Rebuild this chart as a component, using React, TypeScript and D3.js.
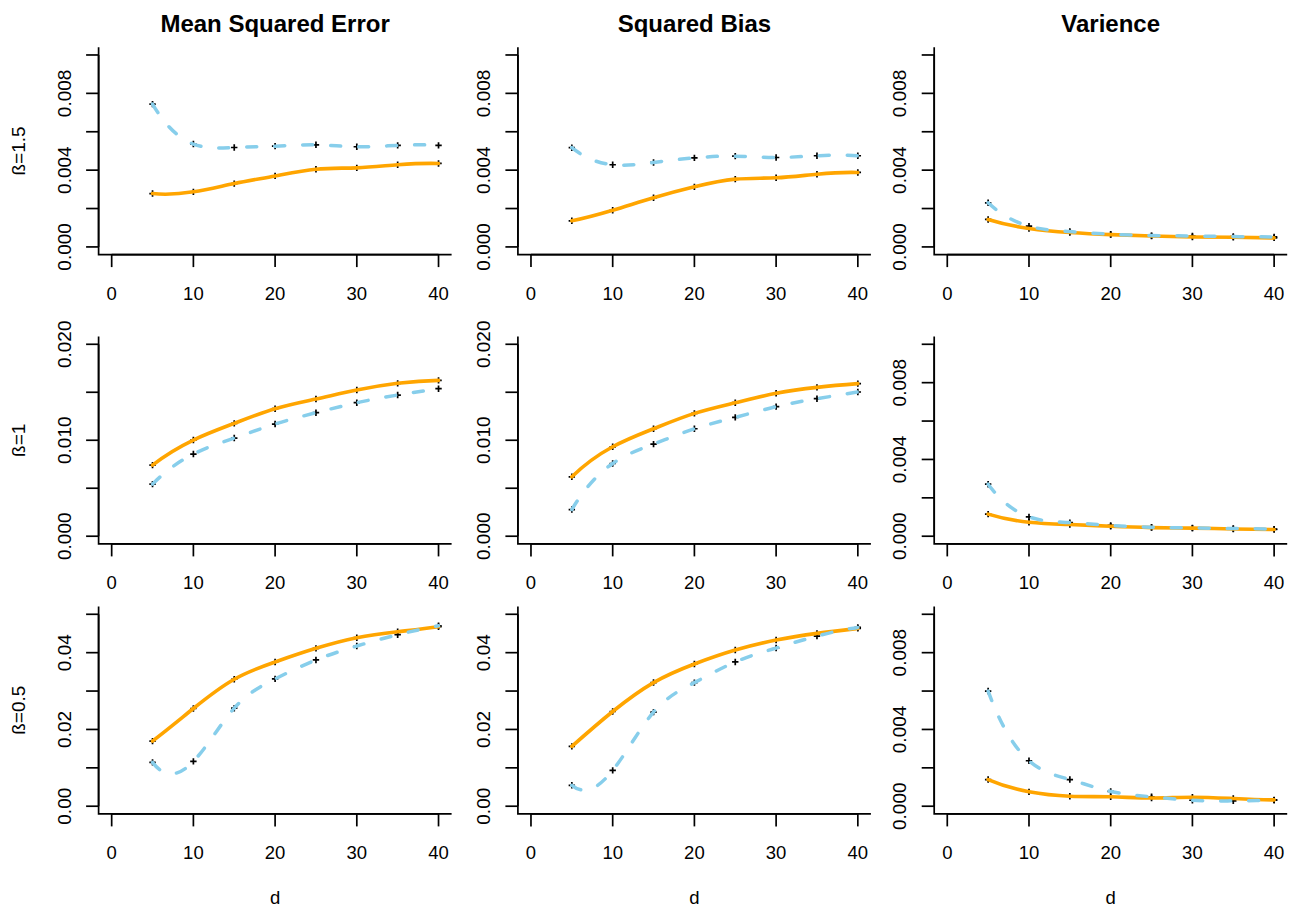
import React from "react";
import * as d3 from "d3";

// ---------- data ----------
const dValues = [5, 10, 15, 20, 25, 30, 35, 40];
const xTicks = [0, 10, 20, 30, 40];

const columnTitles = ["Mean Squared Error", "Squared Bias", "Varience"];
const rowLabels = ["ß=1.5", "ß=1", "ß=0.5"];

// Mean squared error
const mseOrange15 = [0.00278, 0.00287, 0.0033, 0.0037, 0.00405, 0.00412, 0.00428, 0.00435];
const mseBlue15 = [0.00744, 0.00536, 0.00518, 0.00525, 0.00532, 0.00522, 0.00529, 0.00529];
const mseOrange10 = [0.00741, 0.01002, 0.01176, 0.01329, 0.0143, 0.01523, 0.01593, 0.01624];
const mseBlue10 = [0.00543, 0.00856, 0.01023, 0.01169, 0.01287, 0.01391, 0.01471, 0.01537];
const mseOrange05 = [0.01697, 0.02545, 0.03307, 0.03758, 0.04113, 0.0439, 0.04545, 0.04675];
const mseBlue05 = [0.01143, 0.01169, 0.02554, 0.03316, 0.0381, 0.04173, 0.04468, 0.04701];

// Squared bias
const biasOrange15 = [0.00136, 0.00191, 0.00256, 0.00313, 0.00353, 0.0036, 0.00379, 0.00388];
const biasBlue15 = [0.00517, 0.00428, 0.0044, 0.00464, 0.00473, 0.00466, 0.00475, 0.00475];
const biasOrange10 = [0.00619, 0.00932, 0.0112, 0.0128, 0.01391, 0.01489, 0.01551, 0.0159];
const biasBlue10 = [0.00278, 0.00758, 0.0096, 0.0112, 0.01238, 0.0135, 0.01433, 0.01503];
const biasOrange05 = [0.01558, 0.02468, 0.03221, 0.03706, 0.04069, 0.04329, 0.04502, 0.04632];
const biasBlue05 = [0.00545, 0.00935, 0.0245, 0.0322, 0.03758, 0.0412, 0.04433, 0.04658];

// Variance
const varOrange15 = [0.00143, 0.00096, 0.00075, 0.00064, 0.00057, 0.00052, 0.0005, 0.00047];
const varBlue15 = [0.0023, 0.00108, 0.0008, 0.00066, 0.00059, 0.00057, 0.00054, 0.00052];
const varOrange10 = [0.00115, 0.00073, 0.00061, 0.00052, 0.00045, 0.00042, 0.00038, 0.00035];
const varBlue10 = [0.00271, 0.00101, 0.00071, 0.00056, 0.00047, 0.00043, 0.0004, 0.00037];
const varOrange05 = [0.00139, 0.00075, 0.00052, 0.00049, 0.00043, 0.00047, 0.0004, 0.00033];
const varBlue05 = [0.006, 0.00237, 0.00139, 0.00077, 0.00049, 0.00031, 0.00028, 0.00031];

// y axes
const yTicksSmall = [0, 0.002, 0.004, 0.006, 0.008, 0.01];
const yLabelsSmall = ["0.000", "", "0.004", "", "0.008", ""];
const yTicksMid = [0, 0.005, 0.01, 0.015, 0.02];
const yLabelsMid = ["0.000", "", "0.010", "", "0.020"];
const yTicksLarge = [0, 0.01, 0.02, 0.03, 0.04, 0.05];
const yLabelsLarge = ["0.00", "", "0.02", "", "0.04", ""];

type Panel = {
  orange: number[];
  blue: number[];
  ymax: number;
  ticks: number[];
  labels: string[];
};

const panels: Panel[][] = [
  [
    { orange: mseOrange15, blue: mseBlue15, ymax: 0.01, ticks: yTicksSmall, labels: yLabelsSmall },
    { orange: biasOrange15, blue: biasBlue15, ymax: 0.01, ticks: yTicksSmall, labels: yLabelsSmall },
    { orange: varOrange15, blue: varBlue15, ymax: 0.01, ticks: yTicksSmall, labels: yLabelsSmall },
  ],
  [
    { orange: mseOrange10, blue: mseBlue10, ymax: 0.02, ticks: yTicksMid, labels: yLabelsMid },
    { orange: biasOrange10, blue: biasBlue10, ymax: 0.02, ticks: yTicksMid, labels: yLabelsMid },
    { orange: varOrange10, blue: varBlue10, ymax: 0.01, ticks: yTicksSmall, labels: yLabelsSmall },
  ],
  [
    { orange: mseOrange05, blue: mseBlue05, ymax: 0.05, ticks: yTicksLarge, labels: yLabelsLarge },
    { orange: biasOrange05, blue: biasBlue05, ymax: 0.05, ticks: yTicksLarge, labels: yLabelsLarge },
    { orange: varOrange05, blue: varBlue05, ymax: 0.01, ticks: yTicksSmall, labels: yLabelsSmall },
  ],
];

// ---------- custom d3 curve: FMM cubic spline (as R's spline()) ----------
class CurveFMM {
  _context: any;
  _x: number[] = [];
  _y: number[] = [];
  constructor(context: any) {
    this._context = context;
  }
  areaStart() {}
  areaEnd() {}
  lineStart() {
    this._x = [];
    this._y = [];
  }
  point(x: number, y: number) {
    this._x.push(+x);
    this._y.push(+y);
  }
  lineEnd() {
    const x = this._x;
    const y = this._y;
    const n = x.length;
    const ctx = this._context;
    if (n === 0) return;
    ctx.moveTo(x[0], y[0]);
    if (n < 4) {
      for (let i = 1; i < n; i++) ctx.lineTo(x[i], y[i]);
      return;
    }
    const b = new Array(n).fill(0);
    const c = new Array(n).fill(0);
    const d = new Array(n).fill(0);
    const nm1 = n - 1;
    d[0] = x[1] - x[0];
    c[1] = (y[1] - y[0]) / d[0];
    for (let i = 1; i < nm1; i++) {
      d[i] = x[i + 1] - x[i];
      b[i] = 2 * (d[i - 1] + d[i]);
      c[i + 1] = (y[i + 1] - y[i]) / d[i];
      c[i] = c[i + 1] - c[i];
    }
    b[0] = -d[0];
    b[nm1] = -d[n - 2];
    c[0] = c[2] / (x[3] - x[1]) - c[1] / (x[2] - x[0]);
    c[nm1] = c[n - 2] / (x[nm1] - x[n - 3]) - c[n - 3] / (x[n - 2] - x[n - 4]);
    c[0] = (c[0] * d[0] * d[0]) / (x[3] - x[0]);
    c[nm1] = (-c[nm1] * d[n - 2] * d[n - 2]) / (x[nm1] - x[n - 4]);
    for (let i = 1; i <= nm1; i++) {
      const t = d[i - 1] / b[i - 1];
      b[i] = b[i] - t * d[i - 1];
      c[i] = c[i] - t * c[i - 1];
    }
    c[nm1] = c[nm1] / b[nm1];
    for (let i = n - 2; i >= 0; i--) c[i] = (c[i] - d[i] * c[i + 1]) / b[i];
    b[nm1] = (y[nm1] - y[n - 2]) / d[n - 2] + d[n - 2] * (c[n - 2] + 2 * c[nm1]);
    for (let i = 0; i < nm1; i++) {
      b[i] = (y[i + 1] - y[i]) / d[i] - d[i] * (c[i + 1] + 2 * c[i]);
      d[i] = (c[i + 1] - c[i]) / d[i];
      c[i] = 3 * c[i];
    }
    c[nm1] = 3 * c[nm1];
    d[nm1] = d[n - 2];
    for (let i = 0; i < nm1; i++) {
      const h = x[i + 1] - x[i];
      const s0 = b[i];
      const s1 = b[i] + 2 * c[i] * h + 3 * d[i] * h * h;
      ctx.bezierCurveTo(
        x[i] + h / 3,
        y[i] + (s0 * h) / 3,
        x[i + 1] - h / 3,
        y[i + 1] - (s1 * h) / 3,
        x[i + 1],
        y[i + 1]
      );
    }
  }
}
const curveFMM: any = (context: any) => new CurveFMM(context);

// ---------- layout ----------
const W = 1296;
const H = 909;
const colLeft = [98.6, 517.9, 934.2];
const rowTop = [47.3, 336.6, 606.6];
const plotW = 353;
const plotH = 207.3;
const FONT = "'Liberation Sans', Arial, Helvetica, sans-serif";
const ORANGE = "#FFA500";
const BLUE = "#87CEEB";
const TICK = 12.5;
const AXW = 1.7;

function PanelView({ p, r, c }: { p: Panel; r: number; c: number }) {
  const x0 = colLeft[c];
  const y0 = rowTop[r];
  const x = d3.scaleLinear().domain([-1.6, 41.6]).range([x0, x0 + plotW]);
  const pad = p.ymax * 0.04;
  const y = d3.scaleLinear().domain([-pad, p.ymax + pad]).range([y0 + plotH, y0]);
  const line = d3
    .line<number>()
    .x((_, i) => x(dValues[i]))
    .y((v) => y(v))
    .curve(curveFMM);
  const bottom = y0 + plotH;
  const mk = 3.2;
  return (
    <g>
      <path d={`M${x0},${y0}V${bottom}H${x0 + plotW}`} fill="none" stroke="#000" strokeWidth={AXW} />
      <line x1={x0} x2={x0} y1={y(p.ticks[0])} y2={y(p.ticks[p.ticks.length - 1])} stroke="#000" strokeWidth={AXW} />
      {p.ticks.map((t, i) => (
        <g key={"yt" + i}>
          <line x1={x0 - TICK} x2={x0} y1={y(t)} y2={y(t)} stroke="#000" strokeWidth={AXW} />
          {p.labels[i] ? (
            <text
              transform={`translate(${x0 - 28},${y(t)}) rotate(-90)`}
              textAnchor="middle"
              fontFamily={FONT}
              fontSize={19}
              fill="#000"
            >
              {p.labels[i]}
            </text>
          ) : null}
        </g>
      ))}
      <line x1={x(xTicks[0])} x2={x(xTicks[xTicks.length - 1])} y1={bottom} y2={bottom} stroke="#000" strokeWidth={AXW} />
      {xTicks.map((t) => (
        <g key={"xt" + t}>
          <line x1={x(t)} x2={x(t)} y1={bottom} y2={bottom + TICK} stroke="#000" strokeWidth={AXW} />
          <text x={x(t)} y={bottom + 45} textAnchor="middle" fontFamily={FONT} fontSize={18.5} fill="#000">
            {t}
          </text>
        </g>
      ))}
      {[p.orange, p.blue].map((arr, k) =>
        arr.map((v, i) => (
          <path
            key={"m" + k + "-" + i}
            d={`M${x(dValues[i]) - mk},${y(v)}h${2 * mk}M${x(dValues[i])},${y(v) - mk}v${2 * mk}`}
            stroke="#000"
            strokeWidth={1.7}
            fill="none"
          />
        ))
      )}
      <path d={line(p.orange) || ""} fill="none" stroke={ORANGE} strokeWidth={3.6} strokeLinecap="round" strokeLinejoin="round" />
      <path
        d={line(p.blue) || ""}
        fill="none"
        stroke={BLUE}
        strokeWidth={3.5}
        strokeDasharray="10 18"
        strokeLinecap="round"
        strokeLinejoin="round"
      />
      {r === 0 ? (
        <text x={x0 + plotW / 2} y={31.5} textAnchor="middle" fontFamily={FONT} fontWeight="bold" fontSize={24} fill="#000">
          {columnTitles[c]}
        </text>
      ) : null}
      {r === 2 ? (
        <text x={x0 + plotW / 2} y={903.5} textAnchor="middle" fontFamily={FONT} fontSize={18.5} fill="#000">
          d
        </text>
      ) : null}
      {c === 0 ? (
        <text
          transform={`translate(25,${y0 + plotH / 2}) rotate(-90)`}
          textAnchor="middle"
          fontFamily={FONT}
          fontSize={19}
          fill="#000"
        >
          {rowLabels[r]}
        </text>
      ) : null}
    </g>
  );
}

export default function App() {
  return (
    <svg
      width={W}
      height={H}
      viewBox={`0 0 ${W} ${H}`}
      style={{ position: "absolute", left: 0, top: 0, background: "#fff" }}
    >
      <rect width={W} height={H} fill="#fff" />
      {panels.map((row, r) => row.map((p, c) => <PanelView key={r + "-" + c} p={p} r={r} c={c} />))}
    </svg>
  );
}
